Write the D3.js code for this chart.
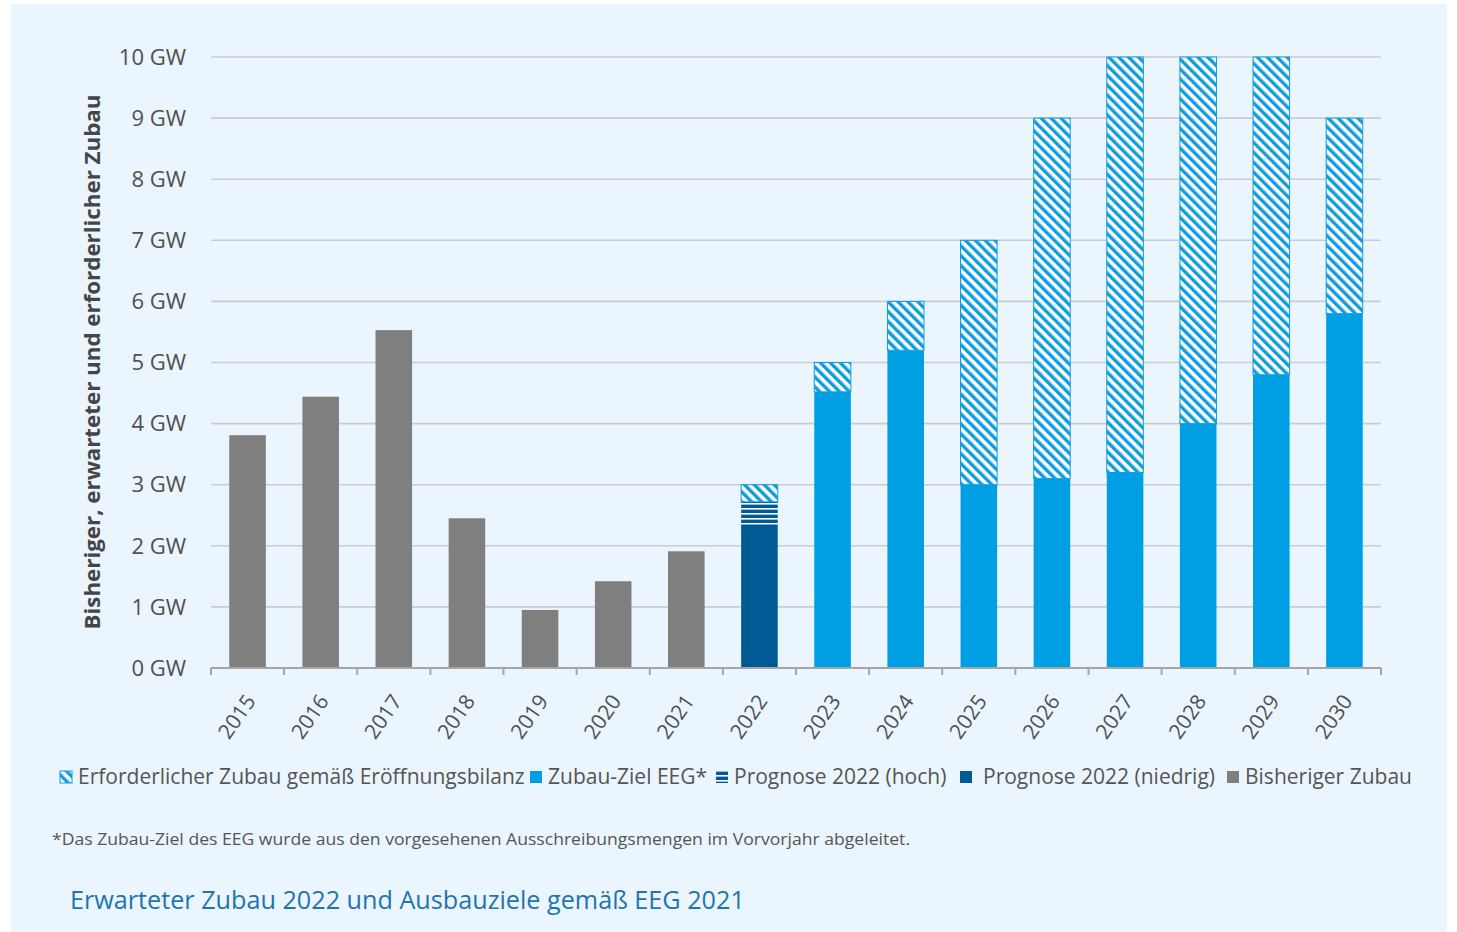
<!DOCTYPE html>
<html><head><meta charset="utf-8">
<script src="https://cdn.jsdelivr.net/npm/d3@7"></script>
<style>
html,body{margin:0;padding:0;background:#fff;}
svg{display:block;}
text{font-family:"Open Sans","Noto Sans",sans-serif;}
</style></head>
<body>
<svg id="chart" width="1457" height="932"></svg>
<script>
const years = ["2015","2016","2017","2018","2019","2020","2021","2022","2023","2024","2025","2026","2027","2028","2029","2030"];
const bisheriger = [3.81,4.44,5.53,2.45,0.95,1.42,1.91,0,0,0,0,0,0,0,0,0];
const prognoseNiedrig = [0,0,0,0,0,0,0,2.35,0,0,0,0,0,0,0,0];
const prognoseHoch = [0,0,0,0,0,0,0,0.37,0,0,0,0,0,0,0,0];
const zielEEG = [0,0,0,0,0,0,0,0,4.52,5.2,3.0,3.1,3.2,4.0,4.8,5.8];
const erforderlich = [0,0,0,0,0,0,0,0.28,0.48,0.8,4.0,5.9,6.8,6.0,5.2,3.2];
const yTicks = [0,1,2,3,4,5,6,7,8,9,10];
const seriesNames = ["Bisheriger Zubau","Prognose 2022 (niedrig)","Prognose 2022 (hoch)","Zubau-Ziel EEG*","Erforderlicher Zubau gemäß Eröffnungsbilanz"];
const legendOrder = ["Erforderlicher Zubau gemäß Eröffnungsbilanz","Zubau-Ziel EEG*","Prognose 2022 (hoch)","Prognose 2022 (niedrig)","Bisheriger Zubau"];

(function(){
const svg = d3.select("#chart");
svg.append("rect").attr("x",11).attr("y",4).attr("width",1436).attr("height",928).attr("fill","#eaf5fd");

const defs = svg.append("defs");
const hatch = defs.append("pattern").attr("id","hatch").attr("patternUnits","userSpaceOnUse")
  .attr("width",7).attr("height",7).attr("patternTransform","rotate(-45)");
hatch.append("rect").attr("width",7).attr("height",7).attr("fill","#ffffff");
hatch.append("rect").attr("width",3.4).attr("height",7).attr("fill","#0f9de0");
const hstripe = defs.append("pattern").attr("id","hstripe").attr("patternUnits","userSpaceOnUse")
  .attr("width",10).attr("height",5);
hstripe.append("rect").attr("width",10).attr("height",5).attr("fill","#005a94");
hstripe.append("rect").attr("y",3).attr("width",10).attr("height",1.6).attr("fill","#ffffff");

const fills = {
  "Bisheriger Zubau":"#7f7f7f",
  "Prognose 2022 (niedrig)":"#005a94",
  "Prognose 2022 (hoch)":"url(#hstripe)",
  "Zubau-Ziel EEG*":"#009fe3",
  "Erforderlicher Zubau gemäß Eröffnungsbilanz":"url(#hatch)"
};
const values = {
  "Bisheriger Zubau":bisheriger,
  "Prognose 2022 (niedrig)":prognoseNiedrig,
  "Prognose 2022 (hoch)":prognoseHoch,
  "Zubau-Ziel EEG*":zielEEG,
  "Erforderlicher Zubau gemäß Eröffnungsbilanz":erforderlich
};

const pL = 211, pR = 1381, pT = 57, pB = 668;
const x = d3.scaleBand().domain(years).range([pL,pR]).paddingInner(0.5).paddingOuter(0.25);
const y = d3.scaleLinear().domain([0,10]).range([pB,pT]);

svg.append("g").selectAll("line").data(yTicks.filter(t=>t>0)).join("line")
  .attr("x1",pL).attr("x2",pR).attr("y1",d=>y(d)).attr("y2",d=>y(d))
  .attr("stroke","#c9cdd2").attr("stroke-width",1.6);

svg.append("g").selectAll("text").data(yTicks).join("text")
  .attr("x",186).attr("y",d=>y(d)).attr("dy","0.35em").attr("text-anchor","end")
  .attr("font-size",22).attr("fill","#505050").text(d=>d+" GW");

const table = years.map((yr,i)=>{const o={year:yr}; seriesNames.forEach(s=>o[s]=values[s][i]); return o;});
const stack = d3.stack().keys(seriesNames)(table);
svg.append("g").selectAll("g").data(stack).join("g")
  .each(function(layer){
    d3.select(this).selectAll("rect").data(layer.filter(d=>d[1]-d[0]>0)).join("rect")
      .attr("x",d=>x(d.data.year)).attr("width",x.bandwidth())
      .attr("y",d=>y(d[1])).attr("height",d=>y(d[0])-y(d[1]))
      .attr("fill",fills[layer.key])
      .attr("stroke",layer.key.startsWith("Erforderlich")?"#0f9de0":"none")
      .attr("stroke-width",1);
  });

const ax = svg.append("g").attr("transform",`translate(0,${pB})`);
ax.append("line").attr("x1",pL).attr("x2",pR).attr("stroke","#a6a6a6").attr("stroke-width",2);
const boundaries = d3.range(years.length+1).map(i=>pL + i*(pR-pL)/years.length);
ax.selectAll("line.tick").data(boundaries).join("line").attr("class","tick")
  .attr("x1",d=>d).attr("x2",d=>d).attr("y1",0).attr("y2",7).attr("stroke","#a6a6a6").attr("stroke-width",2);
ax.selectAll("text").data(years).join("text")
  .attr("transform",d=>`translate(${x(d)+x.bandwidth()/2+3},${29}) rotate(-55)`)
  .attr("text-anchor","end").attr("dy","0.35em").attr("font-size",21).attr("fill","#505050").text(d=>d);

svg.append("text").attr("transform","translate(100,362) rotate(-90)").attr("text-anchor","middle")
  .attr("font-size",21).attr("font-weight","bold").attr("fill","#454545")
  .attr("textLength",535).attr("lengthAdjust","spacingAndGlyphs")
  .text("Bisheriger, erwarteter und erforderlicher Zubau");

const legX = [60,530,716,960,1227];
const lg = svg.append("g");
legendOrder.forEach((name,i)=>{
  const g = lg.append("g").attr("transform",`translate(${legX[i]},777)`);
  g.append("rect").attr("x",0).attr("y",-6).attr("width",12).attr("height",12)
    .attr("fill",fills[name]).attr("stroke",name.startsWith("Erforderlich")?"#0f9de0":"none");
  g.append("text").attr("x", i===3?23:18).attr("y",0).attr("dy","0.35em").attr("font-size",21)
    .attr("fill","#555").text(name);
});

svg.append("text").attr("x",52).attr("y",839).attr("dy","0.35em").attr("font-size",16.5).attr("fill","#555")
  .attr("textLength",858).attr("lengthAdjust","spacingAndGlyphs")
  .text("*Das Zubau-Ziel des EEG wurde aus den vorgesehenen Ausschreibungsmengen im Vorvorjahr abgeleitet.");
svg.append("text").attr("x",70).attr("y",900).attr("dy","0.35em").attr("font-size",25.2).attr("fill","#1f74b0")
  .text("Erwarteter Zubau 2022 und Ausbauziele gemäß EEG 2021");
})();
</script>
</body></html>
